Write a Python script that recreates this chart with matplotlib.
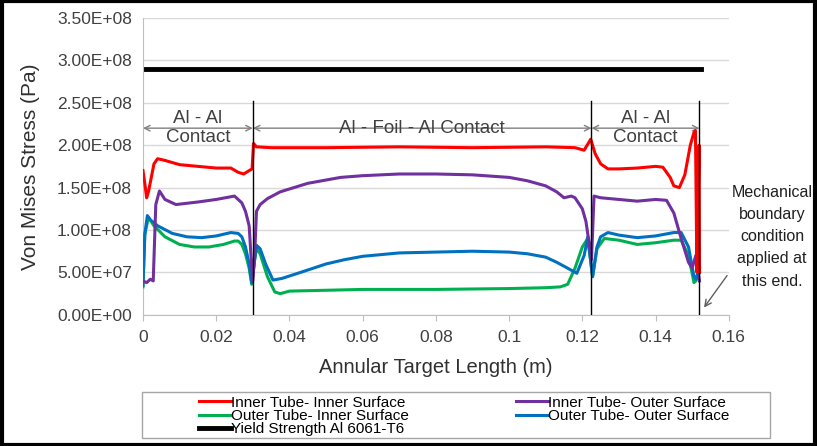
import matplotlib.pyplot as plt
from matplotlib.patches import Rectangle
from matplotlib.ticker import FuncFormatter

plt.rcParams['font.family'] = ['Liberation Sans', 'DejaVu Sans']

# Inner Tube - Inner Surface
x_ii = [0, 0.0005, 0.001, 0.0015, 0.003, 0.004, 0.006, 0.01, 0.015, 0.02, 0.024, 0.026,
        0.0275, 0.029, 0.0298, 0.0302, 0.031, 0.035, 0.05, 0.07, 0.09, 0.11, 0.118, 0.1205,
        0.1223, 0.1235, 0.125, 0.127, 0.13, 0.135, 0.14, 0.142, 0.144, 0.145, 0.1465, 0.148,
        0.1495, 0.1505, 0.1509, 0.1513, 0.1516, 0.1519, 0.152]
y_ii = [1.70, 1.55, 1.38, 1.45, 1.78, 1.84, 1.82, 1.77, 1.75, 1.73, 1.73, 1.68,
        1.66, 1.70, 1.72, 2.02, 1.98, 1.97, 1.97, 1.98, 1.97, 1.98, 1.97, 1.94,
        2.07, 1.90, 1.78, 1.72, 1.72, 1.73, 1.75, 1.74, 1.62, 1.52, 1.50, 1.65,
        2.00, 2.15, 2.17, 0.50, 1.20, 2.00, 0.50]

# Inner Tube - Outer Surface
x_io = [0, 0.001, 0.002, 0.0028, 0.0035, 0.0045, 0.006, 0.009, 0.015, 0.02, 0.025, 0.027,
        0.028, 0.029, 0.0295, 0.030, 0.0305, 0.031, 0.032, 0.034, 0.0375, 0.045, 0.054, 0.06,
        0.07, 0.08, 0.09, 0.1, 0.105, 0.11, 0.113, 0.115, 0.117, 0.118, 0.12, 0.121, 0.1225,
        0.1232, 0.125, 0.13, 0.135, 0.14, 0.143, 0.145, 0.147, 0.149, 0.150, 0.151, 0.152]
y_io = [0.40, 0.38, 0.42, 0.40, 1.30, 1.46, 1.36, 1.30, 1.33, 1.36, 1.40, 1.32,
        1.22, 1.05, 0.70, 0.40, 0.70, 1.22, 1.30, 1.37, 1.45, 1.55, 1.62, 1.64,
        1.66, 1.66, 1.65, 1.62, 1.58, 1.52, 1.45, 1.38, 1.40, 1.38, 1.25, 1.10, 0.65,
        1.40, 1.38, 1.36, 1.34, 1.36, 1.35, 1.20, 0.90, 0.62, 0.55, 0.70, 0.40]

# Outer Tube - Inner Surface
x_oi = [0, 0.0005, 0.0015, 0.003, 0.006, 0.01, 0.014, 0.018, 0.022, 0.025, 0.026, 0.027,
        0.028, 0.029, 0.0297, 0.0305, 0.031, 0.032, 0.034, 0.036, 0.0375, 0.04, 0.05, 0.06,
        0.08, 0.1, 0.11, 0.114, 0.116, 0.118, 0.12, 0.1215, 0.1228, 0.124, 0.126, 0.13,
        0.135, 0.14, 0.145, 0.147, 0.149, 0.1505, 0.151, 0.152]
y_oi = [0.33, 0.95, 1.15, 1.05, 0.92, 0.83, 0.80, 0.80, 0.83, 0.87, 0.87, 0.83,
        0.72, 0.55, 0.36, 0.65, 0.78, 0.72, 0.45, 0.27, 0.25, 0.28, 0.29, 0.30,
        0.30, 0.31, 0.32, 0.33, 0.36, 0.55, 0.80, 0.90, 0.45, 0.78, 0.90, 0.88,
        0.83, 0.85, 0.88, 0.88, 0.70, 0.38, 0.40, 0.50]

# Outer Tube - Outer Surface
x_oo = [0, 0.0005, 0.0012, 0.002, 0.004, 0.008, 0.012, 0.016, 0.02, 0.024, 0.026, 0.027,
        0.028, 0.029, 0.0297, 0.0305, 0.031, 0.032, 0.0335, 0.0355, 0.038, 0.043, 0.05, 0.055,
        0.06, 0.07, 0.08, 0.09, 0.1, 0.105, 0.11, 0.113, 0.116, 0.1185, 0.1205, 0.1215,
        0.1228, 0.124, 0.125, 0.127, 0.13, 0.135, 0.14, 0.145, 0.147, 0.149, 0.1505, 0.151, 0.152]
y_oo = [0.35, 0.95, 1.17, 1.12, 1.05, 0.96, 0.92, 0.91, 0.93, 0.97, 0.96, 0.92,
        0.80, 0.60, 0.38, 0.65, 0.82, 0.78, 0.60, 0.41, 0.43, 0.50, 0.60, 0.65,
        0.69, 0.73, 0.74, 0.75, 0.74, 0.72, 0.68, 0.62, 0.55, 0.49, 0.70, 0.92,
        0.45, 0.80, 0.92, 0.97, 0.94, 0.91, 0.93, 0.97, 0.97, 0.80, 0.45, 0.42, 0.55]

yield_x = [0, 0.1523]
yield_y = [2.9e8, 2.9e8]

boundaries = [0.03, 0.1225, 0.152]
regions = ["Al - Al\nContact", "Al - Foil - Al Contact", "Al - Al\nContact"]

fig = plt.figure(figsize=(8.17, 4.46), dpi=100)
ax = fig.add_axes([0.175, 0.294, 0.717, 0.666])

l_ii, = ax.plot(x_ii, [v * 1e8 for v in y_ii], color='#ff0000', lw=2.2, label='Inner Tube- Inner Surface', zorder=5)
l_oi, = ax.plot(x_oi, [v * 1e8 for v in y_oi], color='#00b050', lw=2.2, label='Outer Tube- Inner Surface', zorder=3)
l_y, = ax.plot(yield_x, yield_y, color='black', lw=3.5, label='Yield Strength Al 6061-T6')
l_io, = ax.plot(x_io, [v * 1e8 for v in y_io], color='#7030a0', lw=2.2, label='Inner Tube- Outer Surface', zorder=4)
l_oo, = ax.plot(x_oo, [v * 1e8 for v in y_oo], color='#0070c0', lw=2.2, label='Outer Tube- Outer Surface', zorder=3)

for b in boundaries:
    ax.plot([b, b], [0, 2.52e8], color='black', lw=1, zorder=6)

edges = [0] + boundaries
for i in range(3):
    ax.annotate('', xy=(edges[i], 2.2e8), xytext=(edges[i + 1], 2.2e8),
                arrowprops=dict(arrowstyle='<->', color='#808080', lw=1, shrinkA=0, shrinkB=0))
    ax.text((edges[i] + edges[i + 1]) / 2, 2.2e8, regions[i], ha='center', va='center',
            fontsize=13.5, color='#404040', linespacing=1.2)

ax.annotate('Mechanical\nboundary\ncondition\napplied at\nthis end.', xy=(0.1528, 0.06e8),
            xytext=(0.1718, 0.92e8), ha='center', va='center', fontsize=11.5, color='#202020',
            linespacing=1.6, annotation_clip=False,
            arrowprops=dict(arrowstyle='->', color='#606060', lw=1, relpos=(0.06, 0.25)))

ax.set_xlim(0, 0.16)
ax.set_ylim(0, 3.5e8)
ax.set_xticks([0, 0.02, 0.04, 0.06, 0.08, 0.1, 0.12, 0.14, 0.16])
ax.set_xticklabels(['0', '0.02', '0.04', '0.06', '0.08', '0.1', '0.12', '0.14', '0.16'])
ax.set_yticks([i * 5e7 for i in range(8)])
ax.yaxis.set_major_formatter(FuncFormatter(lambda v, p: '%.2E' % v))
ax.grid(axis='y', color='#d9d9d9', lw=1)
ax.set_axisbelow(True)
for s in ['top', 'right']:
    ax.spines[s].set_visible(False)
for s in ['left', 'bottom']:
    ax.spines[s].set_color('#bfbfbf')
ax.tick_params(axis='y', length=0, labelsize=12.5, labelcolor='#404040', pad=8)
ax.tick_params(axis='x', length=4, color='#bfbfbf', labelsize=12.5, labelcolor='#404040', pad=7)
ax.set_xlabel('Annular Target Length (m)', fontsize=14.5, color='#303030', labelpad=9)
ax.set_ylabel('Von Mises Stress (Pa)', fontsize=15, color='#303030', labelpad=12)

leg_kw = dict(frameon=False, fontsize=11, handlelength=2.1, handletextpad=0.0,
              labelspacing=-0.05, borderpad=0, loc='upper left')
leg1 = fig.legend(handles=[l_ii, l_oi, l_y], bbox_to_anchor=(191 / 817, 1 - 388 / 446), **leg_kw)
leg2 = fig.legend(handles=[l_io, l_oo], bbox_to_anchor=(508 / 817, 1 - 388 / 446), **leg_kw)
fig.patches.append(Rectangle((0.174, 0.018), 0.769, 0.104, transform=fig.transFigure,
                             fill=False, edgecolor='#a6a6a6', lw=1))
fig.patches.append(Rectangle((0.002, 0.003), 0.996, 0.994, transform=fig.transFigure,
                             fill=False, edgecolor='black', lw=3))

fig.savefig('out.png', dpi=100)
